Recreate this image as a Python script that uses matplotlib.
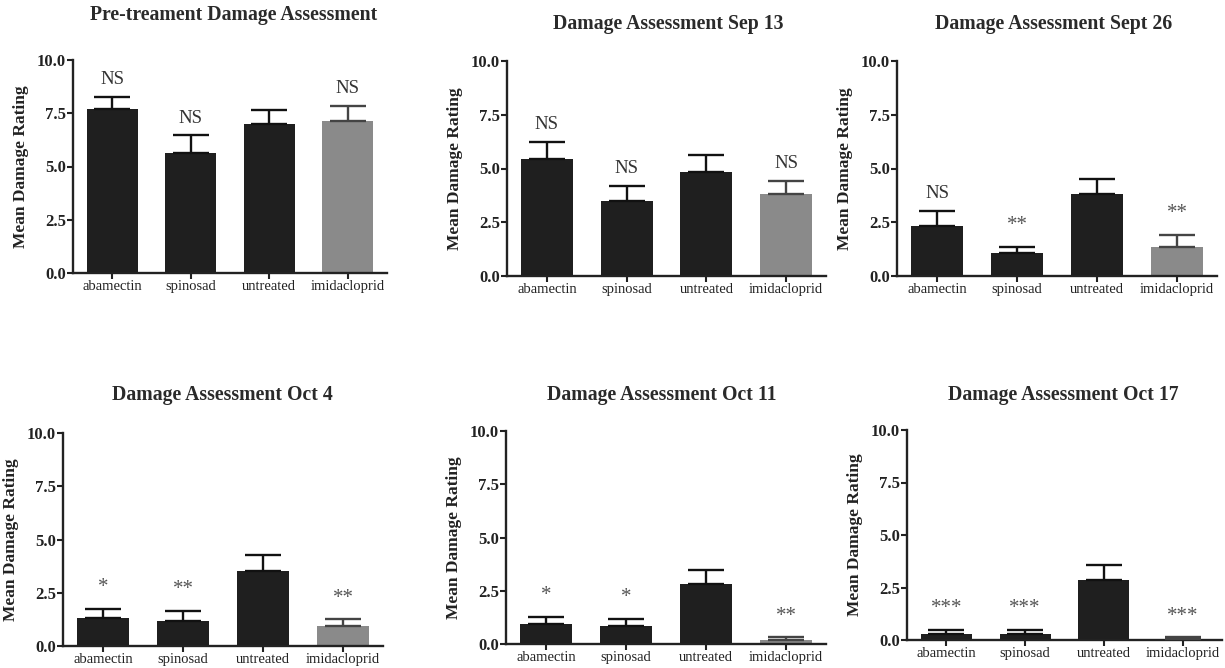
import matplotlib
matplotlib.use("Agg")
import matplotlib.pyplot as plt
import numpy as np

plt.rcParams['font.family'] = ['Liberation Serif', 'DejaVu Serif']

categories = ['abamectin', 'spinosad', 'untreated', 'imidacloprid']

titles = ['Pre-treament Damage Assessment', 'Damage Assessment Sep 13',
          'Damage Assessment Sept 26', 'Damage Assessment Oct 4',
          'Damage Assessment Oct 11', 'Damage Assessment Oct 17']

means_pre = [7.70, 5.65, 7.00, 7.15]
sem_pre = [0.58, 0.81, 0.65, 0.69]
means_sep13 = [5.43, 3.50, 4.85, 3.81]
sem_sep13 = [0.82, 0.69, 0.79, 0.62]
means_sep26 = [2.33, 1.08, 3.80, 1.36]
sem_sep26 = [0.71, 0.28, 0.70, 0.53]
means_oct4 = [1.30, 1.19, 3.52, 0.94]
sem_oct4 = [0.45, 0.47, 0.73, 0.31]
means_oct11 = [0.95, 0.83, 2.83, 0.20]
sem_oct11 = [0.32, 0.34, 0.65, 0.11]
means_oct17 = [0.27, 0.27, 2.86, 0.05]
sem_oct17 = [0.21, 0.21, 0.70, 0.07]

sig_pre = ['NS', 'NS', '', 'NS']
sig_sep13 = ['NS', 'NS', '', 'NS']
sig_sep26 = ['NS', '**', '', '**']
sig_oct4 = ['*', '**', '', '**']
sig_oct11 = ['*', '*', '', '**']
sig_oct17 = ['***', '***', '', '***']

yticks = [0.0, 2.5, 5.0, 7.5, 10.0]
ylabel = 'Mean Damage Rating'

all_means = [means_pre, means_sep13, means_sep26, means_oct4, means_oct11, means_oct17]
all_sems = [sem_pre, sem_sep13, sem_sep26, sem_oct4, sem_oct11, sem_oct17]
all_sigs = [sig_pre, sig_sep13, sig_sep26, sig_oct4, sig_oct11, sig_oct17]

W, H = 1225, 668
fig = plt.figure(figsize=(W / 100, H / 100), dpi=100)
fig.patch.set_facecolor('white')

# axes boxes in pixels: left, right, top, bottom
boxes = [(73, 387, 60, 273), (507, 826, 61, 276), (897, 1217, 61, 276),
         (63, 383, 433, 646), (506, 826, 431, 644), (907, 1222, 430, 640)]
title_pos = [(234, 15), (668, 24), (1054, 24), (222, 395), (662, 395), (1063, 395)]

bar_colors = ['#1f1f1f', '#1f1f1f', '#1f1f1f', '#8a8a8a']
err_colors = ['#111111', '#111111', '#111111', '#444444']
ink = '#222222'

for i in range(6):
    l, r, t, b = boxes[i]
    ax = fig.add_axes([l / W, 1 - b / H, (r - l) / W, (b - t) / H])
    x = np.arange(len(categories))
    means = all_means[i]
    sems = all_sems[i]
    ax.bar(x, means, width=0.65, color=bar_colors, edgecolor='none', zorder=2)
    for j in range(len(categories)):
        ax.errorbar(x[j], means[j], yerr=[[0], [sems[j]]], fmt='none',
                    ecolor=err_colors[j], elinewidth=1.7, capsize=13,
                    capthick=1.7, zorder=3)
        s = all_sigs[i][j]
        top = means[j] + sems[j]
        if s == 'NS':
            ax.text(x[j], top + 0.8, s, ha='center', va='center',
                    fontsize=13.5, color='#333333')
        elif s:
            ax.text(x[j], top + 1.0, s, ha='center', va='center',
                    fontsize=15, color='#555555')
    ax.set_xlim(-0.5, 3.5)
    ax.set_ylim(0, 10)
    ax.set_yticks(yticks)
    ax.set_yticklabels([f'{v:.1f}' for v in yticks], fontsize=12,
                       fontweight='bold', color=ink)
    ax.set_xticks(x)
    ax.set_xticklabels(categories, fontsize=10.5, color=ink)
    for sp in ['top', 'right']:
        ax.spines[sp].set_visible(False)
    for sp in ['left', 'bottom']:
        ax.spines[sp].set_linewidth(1.7)
        ax.spines[sp].set_color('#222222')
    ax.tick_params(axis='y', direction='out', length=4, width=1.5, pad=1,
                   colors=ink)
    ax.tick_params(axis='x', direction='out', length=4, width=1.5, pad=1,
                   colors=ink)
    ax.set_ylabel(ylabel, fontsize=12.5, fontweight='bold', color=ink,
                  labelpad=6)
    tx, ty = title_pos[i]
    fig.text(tx / W, 1 - ty / H, titles[i], ha='center', va='center',
             fontsize=14.2, fontweight='bold', color='#2a2a2a')

fig.savefig('out.png', dpi=100, facecolor='white')
